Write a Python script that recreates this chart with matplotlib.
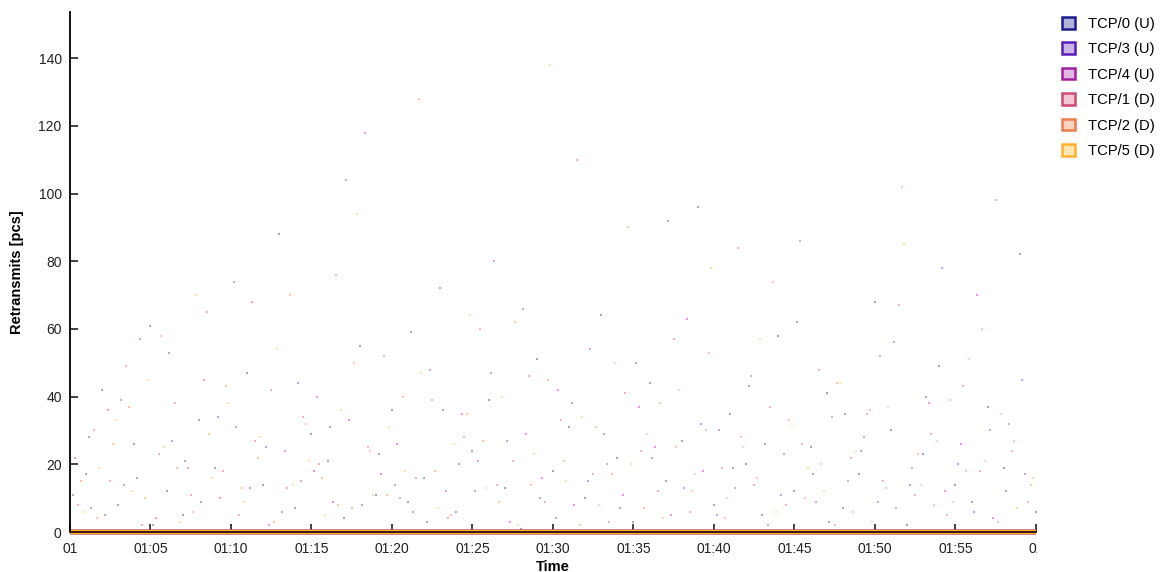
import matplotlib.pyplot as plt
from matplotlib.patches import Patch
from matplotlib.transforms import Bbox, TransformedBbox

plt.rcParams['font.family'] = ['Liberation Sans', 'DejaVu Sans']

# minutes after 01:00
minutes = list(range(61))
tick_minutes = list(range(0, 61, 5))
tick_labels = ['01', '01:05', '01:10', '01:15', '01:20', '01:25', '01:30',
               '01:35', '01:40', '01:45', '01:50', '01:55', '02']

series_names = ['TCP/0 (U)', 'TCP/3 (U)', 'TCP/4 (U)', 'TCP/1 (D)', 'TCP/2 (D)', 'TCP/5 (D)']
# seconds within each minute at which the retransmit bursts were sampled
sample_sec = [0, 10, 20, 30, 40, 50]

tcp0 = [3, 17, 42, 8, 26, 61, 12, 5, 33, 19, 2, 47, 14, 88, 7, 29, 21, 4, 55, 11, 36,
        9, 16, 72, 6, 24, 39, 13, 1, 51, 18, 31, 10, 64, 22, 3, 44, 15, 27, 96, 8,
        35, 20, 5, 58, 12, 25, 41, 7, 17, 68, 30, 2, 23, 49, 14, 9, 37, 19, 82, 6]
tcp3 = [11, 28, 5, 39, 16, 2, 53, 21, 9, 34, 74, 13, 25, 6, 44, 18, 31, 104, 8, 23, 14,
        59, 3, 36, 20, 12, 47, 27, 66, 10, 4, 38, 15, 29, 7, 50, 22, 92, 13, 32, 5,
        19, 43, 26, 11, 62, 17, 3, 35, 24, 9, 56, 14, 40, 78, 20, 6, 30, 12, 45, 16]
tcp4 = [22, 7, 36, 14, 57, 4, 27, 19, 45, 10, 31, 68, 2, 24, 15, 40, 9, 33, 118, 17, 26,
        6, 48, 12, 35, 21, 80, 3, 29, 16, 42, 8, 54, 20, 11, 37, 25, 5, 63, 18, 30,
        13, 46, 2, 23, 86, 9, 34, 15, 28, 52, 7, 19, 38, 12, 26, 70, 4, 32, 17, 41]
tcp1 = [8, 30, 15, 49, 2, 23, 38, 11, 65, 18, 5, 27, 42, 13, 34, 20, 76, 7, 25, 52, 10,
        16, 39, 4, 28, 60, 14, 21, 46, 9, 33, 110, 17, 3, 41, 24, 12, 57, 6, 30, 19,
        84, 14, 37, 8, 26, 48, 2, 22, 35, 15, 67, 11, 29, 5, 43, 18, 98, 24, 9, 31]
tcp2 = [15, 4, 26, 37, 10, 58, 19, 6, 29, 43, 13, 22, 3, 70, 32, 16, 8, 50, 24, 11, 40,
        128, 18, 5, 35, 27, 9, 62, 14, 45, 21, 2, 31, 17, 90, 7, 38, 25, 12, 53, 4,
        28, 16, 74, 33, 10, 20, 44, 6, 36, 13, 102, 23, 8, 39, 18, 60, 3, 27, 14, 48]
tcp5 = [6, 19, 33, 12, 45, 25, 3, 70, 16, 38, 9, 28, 54, 14, 21, 5, 36, 94, 11, 31, 18,
        47, 7, 26, 64, 13, 40, 2, 23, 138, 15, 34, 8, 50, 20, 29, 4, 42, 17, 78, 10,
        25, 57, 6, 32, 19, 12, 44, 24, 3, 37, 85, 14, 27, 9, 51, 21, 35, 7, 16, 30]
# between bursts every connection sits at zero retransmits
idle = [0] * len(minutes)

bursts = [tcp0, tcp3, tcp4, tcp1, tcp2, tcp5]
edge_colors = ['#1c1c8c', '#5a1db8', '#a0209e', '#d04a72', '#f07a4c', '#ffb02e']
face_colors = ['#b3b3da', '#cbb5e8', '#e2b6e2', '#f3c6d4', '#fcd2c2', '#ffe4b4']

fig = plt.figure(figsize=(11.68, 5.72), dpi=100)
ax = fig.add_axes([0.0599, 0.0699, 0.827, 0.909])

for vals, sec, col in zip(bursts, sample_sec, edge_colors):
    t = [m + sec / 60 for m in minutes]
    ax.plot(t, vals, 's', ms=1.8, mew=0, color=col, alpha=0.4)

# zero lines run just under the x axis line
for col in edge_colors:
    ax.plot(minutes, idle, color=col, lw=3.2, solid_capstyle='butt', zorder=2,
            clip_on=False)

ax.set_xlim(0, 60)
ax.set_ylim(0, 153.6)
ax.set_yticks(range(0, 141, 20))
ax.set_xticks(tick_minutes)
ax.set_xticklabels(tick_labels)
ax.tick_params(direction='in', length=6, width=1.2, labelsize=10, colors='#222222')
ax.tick_params(axis='x', pad=7)
ax.tick_params(axis='y', pad=6)
for sp in ['top', 'right']:
    ax.spines[sp].set_visible(False)
for sp in ['left', 'bottom']:
    ax.spines[sp].set_linewidth(1.3)
ax.spines['bottom'].set_color('#2a0d0a')

# the rightmost time label is cut off at the plot edge
last = ax.get_xticklabels()[-1]
last.set_clip_on(True)
last.set_clip_box(TransformedBbox(Bbox([[0, -1], [1.001, 1]]), ax.transAxes))

ax.set_xlabel('Time', fontsize=10.5, fontweight='bold', labelpad=3)
ax.set_ylabel('Retransmits [pcs]', fontsize=10.5, fontweight='bold', labelpad=10)

handles = [Patch(facecolor=fc, edgecolor=ec, linewidth=1.8)
           for fc, ec in zip(face_colors, edge_colors)]
fig.legend(handles, series_names, loc='upper left', bbox_to_anchor=(0.9045, 0.981),
           frameon=False, fontsize=10.6, handlelength=0.85, handleheight=0.85,
           handletextpad=0.9, labelspacing=0.78, borderaxespad=0)

fig.savefig('out.png', dpi=100)
